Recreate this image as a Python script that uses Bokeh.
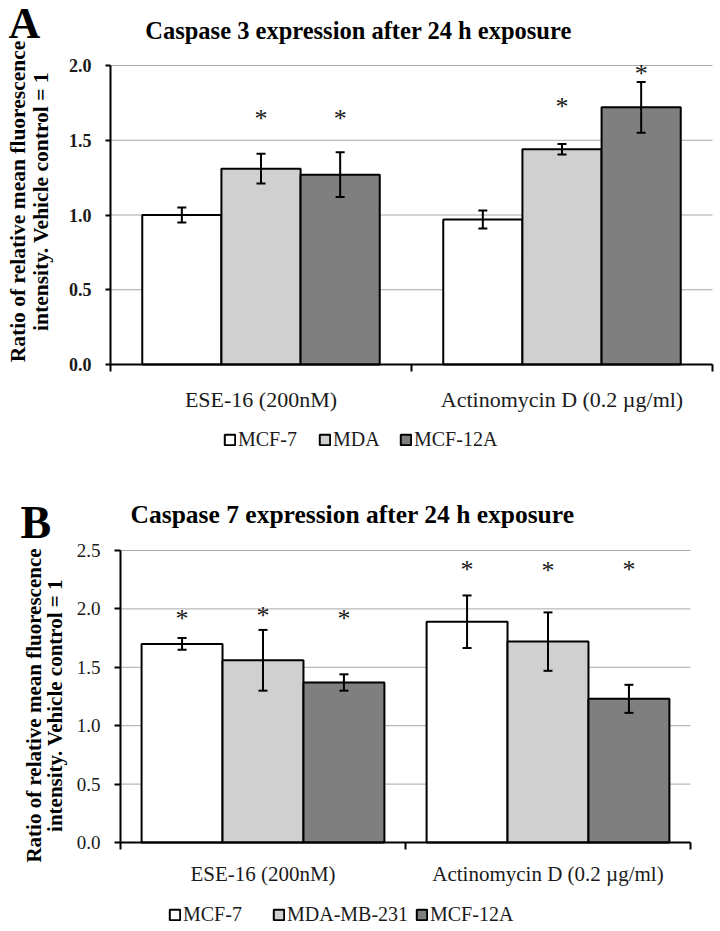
import math
from bokeh.plotting import figure
from bokeh.models import (Range1d, FixedTicker, ColumnDataSource, Whisker, TeeHead,
                          Label, Legend, LegendItem, PrintfTickFormatter)
from bokeh.layouts import column
from bokeh.embed import file_html
from bokeh.resources import INLINE
from bokeh.core.properties import value

# ---------------- data ----------------
categories = ["ESE-16 (200nM)", "Actinomycin D (0.2 µg/ml)"]

a_title = "Caspase 3 expression after 24 h exposure"
a_lines = ["MCF-7", "MDA", "MCF-12A"]
a_mcf7 = [1.00, 0.97]
a_mda = [1.31, 1.44]
a_mcf12a = [1.27, 1.72]
a_mcf7_err = [0.05, 0.06]
a_mda_err = [0.10, 0.035]
a_mcf12a_err = [0.15, 0.17]
a_mcf7_star = [None, None]
a_mda_star = [1.65, 1.73]
a_mcf12a_star = [1.65, 1.95]
a_yticks = [0.0, 0.5, 1.0, 1.5, 2.0]

b_title = "Caspase 7 expression after 24 h exposure"
b_lines = ["MCF-7", "MDA-MB-231", "MCF-12A"]
b_mcf7 = [1.70, 1.89]
b_mda = [1.56, 1.72]
b_mcf12a = [1.37, 1.23]
b_mcf7_err = [0.05, 0.225]
b_mda_err = [0.26, 0.25]
b_mcf12a_err = [0.07, 0.12]
b_mcf7_star = [1.93, 2.35]
b_mda_star = [1.95, 2.34]
b_mcf12a_star = [1.93, 2.35]
b_yticks = [0.0, 0.5, 1.0, 1.5, 2.0, 2.5]

ylabel_lines = ["Ratio of relative mean fluorescence", "intensity. Vehicle control = 1"]

FONT = "Liberation Serif"
FILLS = ["#ffffff", "#d0d0d0", "#7f7f7f"]


def panel(letter, title, lines, vals, errs, stars, yticks, cfg):
    W, H = cfg["w"], cfg["h"]
    ncat = len(categories)
    ymax = yticks[-1]
    # pixel anchors -> ranges (frame covers the whole figure)
    x0px, x1px = cfg["x_px"]
    y0px, y1px = cfg["y_px"]
    ppx = (x1px - x0px) / ncat
    ppy = (y0px - y1px) / ymax
    xr = Range1d(-x0px / ppx, ncat + (W - x1px) / ppx)
    yr = Range1d(-(H - y0px) / ppy, ymax + y1px / ppy)

    p = figure(width=W, height=H, output_backend="svg", toolbar_location=None,
               title=None, x_range=xr, y_range=yr,
               min_border=0, min_border_left=0, min_border_right=0,
               min_border_top=0, min_border_bottom=0)
    p.outline_line_color = None
    p.background_fill_color = "white"
    p.border_fill_color = "white"
    p.xgrid.visible = False
    p.ygrid.visible = False
    bw = cfg["bw"]

    # horizontal gridlines at the tick values
    p.segment(x0=[0] * len(yticks), x1=[ncat] * len(yticks), y0=yticks, y1=yticks,
              line_color="#a8a8a8", line_width=1)

    renderers = []
    for i, (name, v, e, s) in enumerate(zip(lines, vals, errs, stars)):
        xs = [j + 0.5 + (i - 1) * bw for j in range(ncat)]
        src = ColumnDataSource(dict(x=xs, top=v,
                                    upper=[a + b for a, b in zip(v, e)],
                                    lower=[a - b for a, b in zip(v, e)]))
        r = p.vbar(x="x", top="top", width=bw, bottom=0, source=src,
                   fill_color=FILLS[i], line_color="black", line_width=2)
        renderers.append(r)
        w = Whisker(base="x", upper="upper", lower="lower", source=src,
                    line_color="black", line_width=2, level="annotation",
                    upper_head=TeeHead(size=9, line_width=2, line_color="black"),
                    lower_head=TeeHead(size=9, line_width=2, line_color="black"))
        p.add_layout(w)
        sx = [x for x, y in zip(xs, s) if y is not None]
        sy = [y for y in s if y is not None]
        if sx:
            p.text(x=sx, y=sy, text=["*"] * len(sx), text_font=value(FONT),
                   text_font_size=cfg["star_fs"], text_align="center",
                   text_baseline="alphabetic", y_offset=cfg["star_off"], text_color="#1a1a1a")

    # y axis (drawn at x = 0)
    ya = p.yaxis[0]
    ya.fixed_location = 0
    ya.bounds = (0, ymax)
    ya.ticker = FixedTicker(ticks=yticks)
    ya.formatter = PrintfTickFormatter(format="%.1f")
    ya.axis_line_color = "black"
    ya.axis_line_width = 2
    ya.major_tick_line_color = "black"
    ya.major_tick_line_width = 2
    ya.major_tick_out = cfg["ytick_out"]
    ya.major_tick_in = 0
    ya.minor_tick_line_color = None
    ya.major_label_standoff = cfg["ystandoff"]
    ya.major_label_text_font = FONT
    ya.major_label_text_font_size = cfg["ytick_fs"]
    ya.major_label_text_font_style = cfg["ytick_style"]
    ya.major_label_text_color = "#1a1a1a"

    # x axis (drawn at y = 0)
    xa = p.xaxis[0]
    xa.fixed_location = 0
    xa.bounds = (0, ncat)
    centers = [j + 0.5 for j in range(ncat)]
    bounds = [float(j) for j in range(ncat + 1)]
    xa.ticker = FixedTicker(ticks=centers, minor_ticks=bounds)
    xa.major_label_overrides = {c: lab for c, lab in zip(centers, categories)}
    xa.axis_line_color = "black"
    xa.axis_line_width = 2
    xa.major_tick_line_color = None
    xa.major_tick_out = 0
    xa.major_tick_in = 0
    xa.minor_tick_line_color = "black"
    xa.minor_tick_line_width = 2
    xa.minor_tick_out = 7
    xa.minor_tick_in = 0
    xa.major_label_standoff = cfg["xstandoff"]
    xa.major_label_text_font = FONT
    xa.major_label_text_font_size = cfg["xlab_fs"]
    xa.major_label_text_color = "#1a1a1a"

    # panel letter, title, y label (screen px from the figure's bottom-left)
    lx, ly = cfg["letter_xy"]
    p.add_layout(Label(x=lx, y=H - ly, x_units="screen", y_units="screen",
                       text=letter, text_font=FONT, text_font_size=cfg["letter_fs"], text_font_style="bold",
                       text_align="left", text_baseline="alphabetic", text_color="black"))
    tx, ty = cfg["title_xy"]
    p.add_layout(Label(x=tx, y=H - ty, x_units="screen", y_units="screen",
                       text=title, text_font=FONT, text_font_size=cfg["title_fs"], text_font_style="bold",
                       text_align="center", text_baseline="alphabetic", text_color="black"))
    for k, line in enumerate(ylabel_lines):
        p.add_layout(Label(x=cfg["ylab_x"][k], y=H - cfg["ylab_y"], x_units="screen", y_units="screen",
                           text=line, angle=math.pi / 2, text_font=FONT, text_font_size=cfg["ylab_fs"],
                           text_font_style="bold", text_align="center", text_baseline="middle",
                           text_color="black"))

    # legend: one entry per cell line, each placed on its own
    gy = cfg["leg_y"]
    for n, r, gx in zip(lines, renderers, cfg["leg_x"]):
        legend = Legend(items=[LegendItem(label=n, renderers=[r])],
                        orientation="horizontal", location=(gx, H - gy), padding=0, margin=0,
                        glyph_width=13, glyph_height=13, label_standoff=2,
                        border_line_color=None, background_fill_alpha=0,
                        label_text_font=FONT, label_text_font_size=cfg["leg_fs"],
                        label_text_color="#1a1a1a")
        p.add_layout(legend, "center")
    return p


cfg_a = dict(w=720, h=470, x_px=(110, 712), y_px=(364, 65), bw=0.263,
             star_fs="26px", star_off=1, ytick_out=5, ystandoff=14, ytick_fs="18px", ytick_style="bold",
             xstandoff=15, xlab_fs="22px",
             letter_xy=(8, 23), letter_fs="44px", title_xy=(358, 29.5), title_fs="24.5px",
             ylab_x=(17, 40), ylab_y=201, ylab_fs="21.5px",
             leg_x=(223, 318, 399), leg_y=451, leg_fs="20px")
cfg_b = dict(w=720, h=461, x_px=(120, 690), y_px=(372, 80), bw=0.284,
             star_fs="26px", star_off=1, ytick_out=6, ystandoff=14, ytick_fs="19px", ytick_style="normal",
             xstandoff=12, xlab_fs="21px",
             letter_xy=(20, 52), letter_fs="46px", title_xy=(352, 44), title_fs="25.5px",
             ylab_x=(33, 54), ylab_y=235, ylab_fs="21px",
             leg_x=(168, 272, 415), leg_y=456, leg_fs="20px")

pa = panel("A", a_title, a_lines, [a_mcf7, a_mda, a_mcf12a], [a_mcf7_err, a_mda_err, a_mcf12a_err],
           [a_mcf7_star, a_mda_star, a_mcf12a_star], a_yticks, cfg_a)
pb = panel("B", b_title, b_lines, [b_mcf7, b_mda, b_mcf12a], [b_mcf7_err, b_mda_err, b_mcf12a_err],
           [b_mcf7_star, b_mda_star, b_mcf12a_star], b_yticks, cfg_b)

layout = column(pa, pb, spacing=0)
open("out.html", "w").write(file_html(layout, INLINE))
